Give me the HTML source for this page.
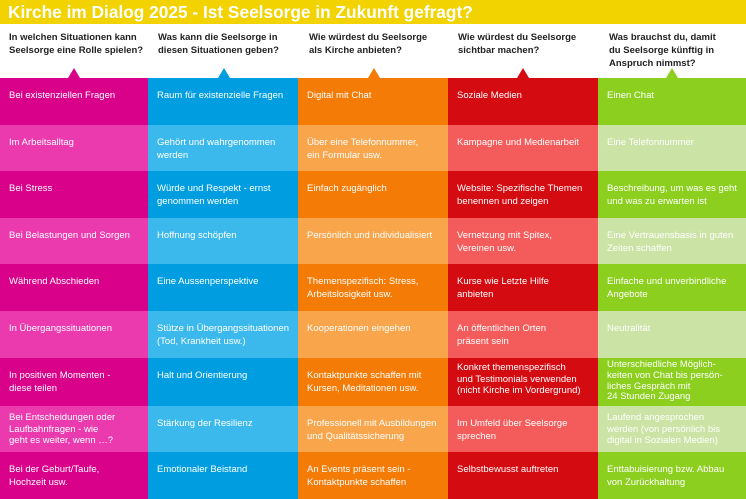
<!DOCTYPE html>
<html><head><meta charset="utf-8"><style>
*{margin:0;padding:0;box-sizing:border-box}
body{width:746px;height:499px;overflow:hidden;background:#fff;font-family:"Liberation Sans",sans-serif;position:relative}
.title{position:absolute;left:0;top:0;width:746px;height:24px;background:#f2d300;color:#fff;font-weight:bold;font-size:17.3px;line-height:24px;padding-left:8px}
.h{position:absolute;top:31px;font-size:9.5px;font-weight:bold;line-height:13px;color:#222}
.tri{position:absolute;top:68px;width:0;height:0;border-left:6px solid transparent;border-right:6px solid transparent;border-bottom:10px solid}
.c{position:absolute;color:#fff;font-size:9.5px;line-height:12.5px;padding:12px 8px 0 9px}
</style></head><body>
<div class="title">Kirche im Dialog 2025 - Ist Seelsorge in Zukunft gefragt?</div>
<div class="h" style="left:9px">In welchen Situationen kann<br>Seelsorge eine Rolle spielen?</div>
<div class="h" style="left:158px">Was kann die Seelsorge in<br>diesen Situationen geben?</div>
<div class="h" style="left:309px">Wie würdest du Seelsorge<br>als Kirche anbieten?</div>
<div class="h" style="left:458px">Wie würdest du Seelsorge<br>sichtbar machen?</div>
<div class="h" style="left:609px">Was brauchst du, damit<br>du Seelsorge künftig in<br>Anspruch nimmst?</div>
<div class="tri" style="left:68px;border-bottom-color:#d9018a"></div>
<div class="tri" style="left:218px;border-bottom-color:#009ee0"></div>
<div class="tri" style="left:368px;border-bottom-color:#f47b06"></div>
<div class="tri" style="left:517px;border-bottom-color:#d50b12"></div>
<div class="tri" style="left:666px;border-bottom-color:#8ccf1f"></div>
<div id="g"></div>
<script>
(function(){
var cols=[[0,148,'#d9018a','#ea3aae'],[148,150,'#009ee0','#3cb9ec'],[298,150,'#f47b06','#f9a54c'],[448,150,'#d50b12','#f45c5c'],[598,148,'#8ccf1f','#cbe3a5']];
var d=[
["Bei existenziellen Fragen","Raum für existenzielle Fragen","Digital mit Chat","Soziale Medien","Einen Chat"],
["Im Arbeitsalltag","Gehört und wahrgenommen<br>werden","Über eine Telefonnummer,<br>ein Formular usw.","Kampagne und Medienarbeit","Eine Telefonnummer"],
["Bei Stress","Würde und Respekt - ernst<br>genommen werden","Einfach zugänglich","Website: Spezifische Themen<br>benennen und zeigen","Beschreibung, um was es geht<br>und was zu erwarten ist"],
["Bei Belastungen und Sorgen","Hoffnung schöpfen","Persönlich und individualisiert","Vernetzung mit Spitex,<br>Vereinen usw.","Eine Vertrauensbasis in guten<br>Zeiten schaffen"],
["Während Abschieden","Eine Aussenperspektive","Themenspezifisch: Stress,<br>Arbeitslosigkeit usw.","Kurse wie Letzte Hilfe<br>anbieten","Einfache und unverbindliche<br>Angebote"],
["In Übergangssituationen","Stütze in Übergangssituationen<br>(Tod, Krankheit usw.)","Kooperationen eingehen","An öffentlichen Orten<br>präsent sein","Neutralität"],
["In positiven Momenten -<br>diese teilen","Halt und Orientierung","Kontaktpunkte schaffen mit<br>Kursen, Meditationen usw.","Konkret themenspezifisch<br>und Testimonials verwenden<br>(nicht Kirche im Vordergrund)","Unterschiedliche Möglich-<br>keiten von Chat bis persön-<br>liches Gespräch mit<br>24 Stunden Zugang"],
["Bei Entscheidungen oder<br>Laufbahnfragen - wie<br>geht es weiter, wenn …?","Stärkung der Resilienz","Professionell mit Ausbildungen<br>und Qualitätssicherung","Im Umfeld über Seelsorge<br>sprechen","Laufend angesprochen<br>werden (von persönlich bis<br>digital in Sozialen Medien)"],
["Bei der Geburt/Taufe,<br>Hochzeit usw.","Emotionaler Beistand","An Events präsent sein -<br>Kontaktpunkte schaffen","Selbstbewusst auftreten","Enttabuisierung bzw. Abbau<br>von Zurückhaltung"]];
var ys=[78,125,171,218,264,311,358,406,452,499],h='';
for(var r=0;r<9;r++)for(var c=0;c<5;c++){var k=cols[c];var y0=ys[r],ht=ys[r+1]-y0;
var n=d[r][c].split('<br>').length;
var pt=12,lh=12.5;
if(n==3){pt=6;lh=11.5;}
if(n==4){pt=2;lh=10.8;}
if(r==6&&c==3){pt=4;}
h+='<div class="c" style="left:'+k[0]+'px;top:'+y0+'px;width:'+k[1]+'px;height:'+ht+'px;padding-top:'+pt+'px;line-height:'+lh+'px;background:'+(r%2?k[3]:k[2])+'">'+d[r][c]+'</div>';}
document.getElementById('g').innerHTML=h;
})();
</script>
</body></html>
